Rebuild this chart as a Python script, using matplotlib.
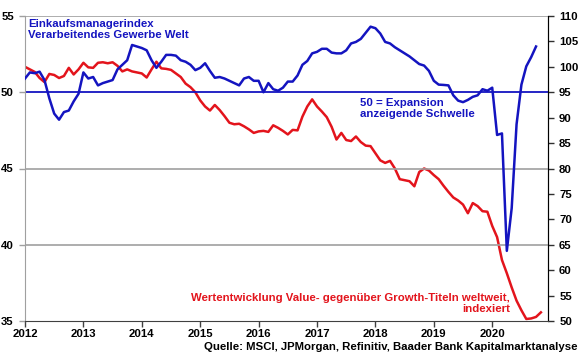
import matplotlib.pyplot as plt
import numpy as np

plt.rcParams['font.family'] = ['Liberation Sans', 'DejaVu Sans']
plt.rcParams['font.weight'] = 'bold'

# Einkaufsmanagerindex Verarbeitendes Gewerbe Welt (monatlich, ab Jan 2012)
pmi = [50.9, 51.3, 51.25, 51.35, 50.8, 49.6, 48.6, 48.2, 48.7, 48.8, 49.4, 49.9,
       51.3, 50.9, 51.0, 50.45, 50.6, 50.7, 50.8, 51.5, 51.8, 52.1, 53.1, 53.0,
       52.9, 52.75, 52.1, 51.6, 52.0, 52.45, 52.45, 52.4, 52.1, 52.0, 51.8, 51.45,
       51.6, 51.9, 51.4, 50.95, 51.0, 50.9, 50.75, 50.6, 50.45, 50.9, 51.0, 50.75,
       50.75, 50.0, 50.6, 50.2, 50.1, 50.3, 50.7, 50.7, 51.1, 51.8, 52.05, 52.55,
       52.65, 52.85, 52.85, 52.6, 52.55, 52.55, 52.75, 53.2, 53.3, 53.5, 53.9, 54.3,
       54.2, 53.85, 53.3, 53.2, 52.95, 52.75, 52.55, 52.35, 52.1, 51.85, 51.75, 51.4,
       50.75, 50.5, 50.48, 50.45, 49.8, 49.45, 49.35, 49.5, 49.7, 49.8, 50.2, 50.1,
       50.3, 47.2, 47.3, 39.6, 42.4, 47.9, 50.5, 51.7, 52.3, 53.0]

# Wertentwicklung Value ggü. Growth, indexiert (monatlich, ab Jan 2012)
value_growth = [100.0, 99.5, 99.0, 97.8, 97.0, 98.6, 98.4, 97.8, 98.2, 99.8, 98.5, 99.5,
                100.8, 99.9, 99.8, 100.8, 100.9, 100.7, 100.9, 100.2, 99.1, 99.5, 99.1, 98.9,
                98.7, 97.9, 99.5, 101.0, 99.7, 99.6, 99.4, 98.7, 98.0, 96.7, 96.0, 95.0,
                93.4, 92.2, 91.4, 92.5, 91.5, 90.3, 89.0, 88.7, 88.8, 88.3, 87.7, 87.0,
                87.3, 87.4, 87.2, 88.5, 88.0, 87.4, 86.7, 87.6, 87.5, 90.2, 92.2, 93.6,
                92.2, 91.2, 90.1, 88.2, 85.7, 87.0, 85.6, 85.4, 86.3, 85.2, 84.5, 84.4,
                83.0, 81.6, 81.1, 81.5, 80.0, 77.9, 77.7, 77.5, 76.5, 79.3, 80.0, 79.6,
                78.7, 77.9, 76.6, 75.4, 74.3, 73.7, 72.9, 71.2, 73.2, 72.6, 71.6, 71.5,
                68.7, 66.5, 62.0, 59.4, 56.6, 54.0, 52.1, 50.4, 50.5, 50.8, 51.7]

years = list(range(2012, 2021))
left_ticks = [35, 40, 45, 50, 55]
right_ticks = list(range(50, 111, 5))

blue = '#1414C0'
red = '#E3141C'
grid_col = '#A0A0A0'

x_pmi = 2012 + np.arange(len(pmi)) / 12
x_vg = 2012 + np.arange(len(value_growth)) / 12

fig = plt.figure(figsize=(5.8, 3.59), dpi=100)
ax = fig.add_axes([25 / 580, 1 - 321 / 359, 523 / 580, 305 / 359])
ax2 = ax.twinx()

ax.set_xlim(2012, 2020.955)
ax.set_ylim(35, 55)
ax2.set_ylim(50, 110)

for t in [40, 45, 55]:
    ax.axhline(t, color=grid_col, lw=1.2, zorder=0)
ax.axhline(50, color=blue, lw=1.3, zorder=1)

ax2.plot(x_vg, value_growth, color=red, lw=1.8)
ax.plot(x_pmi, pmi, color=blue, lw=1.8, zorder=3)
ax.set_zorder(ax2.get_zorder() + 1)
ax.patch.set_visible(False)

ax.set_xticks(years)
ax.set_yticks(left_ticks)
ax2.set_yticks(right_ticks)
ax.tick_params(axis='x', length=4, width=1, pad=2, labelsize=8.2, color='#404040')
ax.tick_params(axis='y', length=4, width=1, pad=4, labelsize=8.2, color=grid_col)
ax2.tick_params(axis='y', length=4, width=1, pad=4, labelsize=8.2, color='#303030')

for a in (ax, ax2):
    a.spines['top'].set_visible(False)
ax.spines['left'].set_color(grid_col)
ax.spines['bottom'].set_color('#404040')
ax2.spines['left'].set_visible(False)
ax2.spines['bottom'].set_visible(False)
ax2.spines['right'].set_color('#303030')

ax.text(0.006, 0.99, 'Einkaufsmanagerindex\nVerarbeitendes Gewerbe Welt',
        transform=ax.transAxes, ha='left', va='top', color=blue,
        fontsize=8.2, fontweight='bold', linespacing=1.1)
ax.text(0.64, 0.73, '50 = Expansion\nanzeigende Schwelle',
        transform=ax.transAxes, ha='left', va='top', color=blue,
        fontsize=8.2, fontweight='bold', linespacing=1.1)
ax.text(0.927, 0.058, 'Wertentwicklung Value- gegenüber Growth-Titeln weltweit,\nindexiert',
        transform=ax.transAxes, ha='right', va='center', multialignment='right',
        color=red, fontsize=8.2, fontweight='bold', linespacing=1.1)
fig.text(0.995, 1 - 347 / 359, 'Quelle: MSCI, JPMorgan, Refinitiv, Baader Bank Kapitalmarktanalyse',
         ha='right', va='center', fontsize=8.2, fontweight='bold')

fig.savefig('out.png', dpi=100)
